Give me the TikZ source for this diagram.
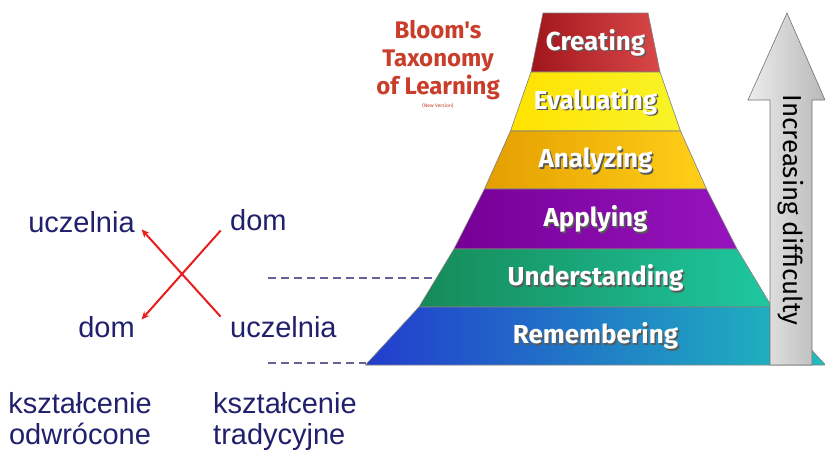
\documentclass[tikz,border=0pt]{standalone}
\usepackage{fontspec}
\setmainfont{Liberation Sans}
\newfontfamily\bloomfont{Fira Sans}
\usetikzlibrary{arrows.meta,positioning,calc}
\definecolor{creA}{RGB}{160,22,28}
\definecolor{creB}{RGB}{218,72,72}
\definecolor{evaA}{RGB}{255,226,0}
\definecolor{evaB}{RGB}{248,244,40}
\definecolor{anaA}{RGB}{228,158,0}
\definecolor{anaB}{RGB}{255,208,24}
\definecolor{appA}{RGB}{118,0,150}
\definecolor{appB}{RGB}{150,20,190}
\definecolor{undA}{RGB}{22,138,88}
\definecolor{undB}{RGB}{30,200,160}
\definecolor{remA}{RGB}{34,60,205}
\definecolor{remB}{RGB}{30,190,190}
\definecolor{navy}{RGB}{32,32,108}
\definecolor{crossred}{RGB}{232,30,30}
\definecolor{titlered}{RGB}{200,62,42}

\begin{document}
\begin{tikzpicture}[x=1pt,y=-1pt,
    level/.style={draw=black!50,line width=0.6pt},
    lvltext/.style={font=\bloomfont\bfseries\fontsize{26}{28}\selectfont,text=white,inner sep=0pt},
    word/.style={font=\fontsize{29}{31}\selectfont,text=navy,inner sep=0pt},
    crossarrow/.style={draw=crossred,line width=2pt,-{Stealth[length=8pt,width=7pt]},
      shorten <=14pt,shorten >=10pt},
    guide/.style={draw=navy!70,line width=1.2pt,dash pattern=on 8pt off 5pt}]
  \useasboundingbox (0,0) rectangle (825,455);
  \fill[white] (0,0) rectangle (825,455);
  % pyramid
  \foreach \ya/\yb/\wa/\wb/\ca/\cb/\txt in {
      13/72/52.5/64.5/creA/creB/Creating,
      72/131/64.5/85/evaA/evaB/Evaluating,
      131/189/85/111/anaA/anaB/Analyzing,
      189/249/111/141.5/appA/appB/Applying,
      249/307/141.5/176.5/undA/undB/Understanding,
      307/365/176.5/230/remA/remB/Remembering} {
    \shade[level,left color=\ca,right color=\cb]
      ({595.5-\wa},\ya) -- ({595.5+\wa},\ya) -- ({595.5+\wb},\yb) -- ({595.5-\wb},\yb) -- cycle;
    \node[lvltext,text=black!65] at (597,{(\ya+\yb)/2+1.5}) {\txt};
    \node[lvltext] (\txt) at (595.5,{(\ya+\yb)/2}) {\txt};
  }
  \coordinate (undL) at (434,278);
  \coordinate (remL) at (365.5,363);
  % difficulty arrow
  \shade[draw=black!55,line width=0.6pt,left color=gray!15,right color=gray!55]
    (770,365) -- (770,100) -- (748,100) -- (787,13) -- (825,100) -- (812,100) -- (812,365) -- cycle;
  \node[font=\bloomfont\fontsize{26}{28}\selectfont,rotate=-90,inner sep=0pt] (diff)
    at (791,210) {Increasing difficulty};
  % title
  \node[font=\bloomfont\bfseries\fontsize{24}{28}\selectfont,text=titlered,align=center,inner sep=0pt]
    (title) at (438,60) {Bloom's\\Taxonomy\\of Learning};
  \node[font=\bloomfont\fontsize{5}{6}\selectfont,text=titlered,inner sep=0pt] (newver)
    at (438,106) {(New Version)};
  % left part
  \node[word] (uczA) at (81.5,222) {uczelnia};
  \node[word,anchor=west] (domA) at (230,220) {dom};
  \node[word] (domB) at (106.5,327) {dom};
  \node[word,anchor=west] (uczB) at (230,327) {uczelnia};
  \draw[crossarrow] (domA.west) -- (domB.east);
  \draw[crossarrow] (uczB.west) -- (uczA.east);
  \coordinate (gA) at (268,278);
  \coordinate (gB) at (268,363);
  \draw[guide] (gA) -- (undL);
  \draw[guide] (gB) -- (remL);
  \node[word,align=center,anchor=north] (odw) at (80,392) {kształcenie\\odwrócone};
  \node[word,align=left,anchor=north west] (trad) at (213,392) {kształcenie\\tradycyjne};
\end{tikzpicture}
\end{document}
